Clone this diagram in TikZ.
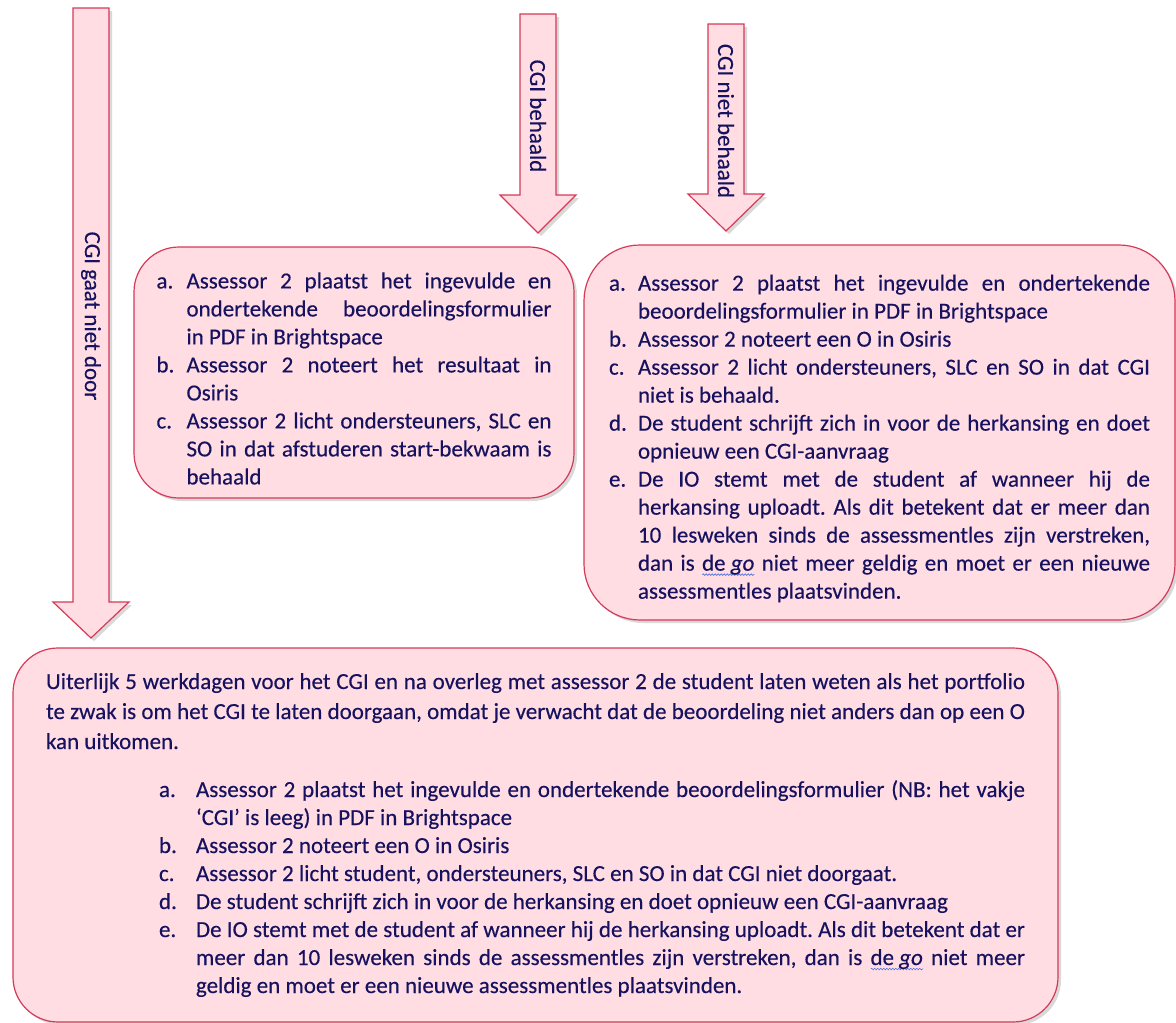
\documentclass[tikz,border=0pt]{standalone}
\usepackage{fontspec}
\setmainfont{Carlito}[FakeBold=0.3]
\usetikzlibrary{positioning,shadows,decorations.pathmorphing}
\frenchspacing

\definecolor{roze}{RGB}{255,221,227}
\definecolor{rand}{RGB}{213,58,88}
\definecolor{inkt}{RGB}{22,18,96}
\definecolor{golf}{RGB}{70,110,220}

\newlength\inspring
\setlength\inspring{30pt}
% lijstpunt met hangende inspringing
\newcommand\punt[2]{\par\noindent\hangindent=\inspring\hangafter=1\makebox[\inspring][l]{#1}#2\par}
% blauwe golflijn onder tekst
\newsavebox\golbox
\newlength\gollen
\newcommand\golijn[1]{\leavevmode\sbox\golbox{#1}\setlength\gollen{\wd\golbox}%
  \rlap{\tikz[baseline=0pt]\draw[golf, sharp corners, line width=0.6pt, decorate,
     decoration={snake, amplitude=0.8pt, segment length=3pt}] (0pt,-4pt) -- (\gollen,-4pt);}%
  \usebox\golbox}

\tikzset{
    %Define style for text boxes
    blok/.style={
           rectangle,
           rounded corners=45pt,
           draw=rand, fill=roze,
           line width=1.2pt,
           inner sep=0pt,
           text=inkt,
           align=justify,
           font=\fontsize{23}{28}\selectfont,
           drop shadow={shadow xshift=3pt, shadow yshift=-3pt, opacity=.3}},
    %Define style for block arrows
    pijl/.style={
           draw=rand, fill=roze,
           line width=1.2pt,
           drop shadow={shadow xshift=3pt, shadow yshift=-3pt, opacity=.3}},
    pijltekst/.style={
           rotate=-90,
           text=inkt,
           font=\fontsize{23}{28}\selectfont}
}

\begin{document}
\begin{tikzpicture}[x=1pt,y=-1pt]
\useasboundingbox (0,0) rectangle (1176,1023);
 %arrows
\foreach \cx/\ytop/\ybase/\ytip/\ylab/\naam/\tekst in {
    91/8/602/638/316/nietdoor/{CGI gaat niet door},
    538/14/195/233/116/behaald/{CGI behaald},
    726/24/194/231/121/nietbehaald/{CGI niet behaald}}
{
  \draw[pijl] ({\cx-18},\ytop) -- ({\cx+18},\ytop) -- ({\cx+18},\ybase) -- ({\cx+38},\ybase)
     -- (\cx,\ytip) -- ({\cx-38},\ybase) -- ({\cx-18},\ybase) -- cycle;
  \node[pijltekst] (p\naam) at (\cx,\ylab) {\tekst};
}
 %boxes
\node[blok, minimum width=440pt, minimum height=251pt, text width=395pt] (behaald) at (354,372.5) {%
\punt{a.}{Assessor 2 plaatst het ingevulde en\linebreak ondertekende beoordelingsformulier\linebreak in PDF in Brightspace}
\punt{b.}{Assessor 2 noteert het resultaat in\linebreak Osiris}
\punt{c.}{Assessor 2 licht ondersteuners, SLC en\linebreak SO in dat afstuderen start-bekwaam is\linebreak behaald}};
\node[blok, rounded corners=56pt, minimum width=591pt, minimum height=375pt, text width=541pt] (nietbehaald) at (879.5,432.5) {%
\setlength\inspring{29pt}%
\punt{a.}{Assessor 2 plaatst het ingevulde en ondertekende\linebreak beoordelingsformulier in PDF in Brightspace}
\punt{b.}{Assessor 2 noteert een O in Osiris}
\punt{c.}{Assessor 2 licht ondersteuners, SLC en SO in dat CGI\linebreak niet is behaald.}
\punt{d.}{De student schrijft zich in voor de herkansing en doet\linebreak opnieuw een CGI-aanvraag}
\punt{e.}{De IO stemt met de student af wanneer hij de\linebreak herkansing uploadt. Als dit betekent dat er meer dan\linebreak 10 lesweken sinds de assessmentles zijn verstreken,\linebreak dan is \golijn{de \textit{go}} niet meer geldig en moet er een nieuwe\linebreak assessmentles plaatsvinden.}};
\node[blok, minimum width=1045pt, minimum height=374pt, text width=979pt] (nietdoor) at (535.5,835) {%
{\fontsize{23}{30}\selectfont Uiterlijk 5 werkdagen voor het CGI en na overleg met assessor 2 de student laten weten als het portfolio\linebreak te zwak is om het CGI te laten doorgaan, omdat je verwacht dat de beoordeling niet anders dan op een O\linebreak kan uitkomen.\par}
\vspace{20pt}
{\leftskip=113pt \setlength\inspring{37pt}%
\punt{a.}{Assessor 2 plaatst het ingevulde en ondertekende beoordelingsformulier (NB: het vakje\linebreak ‘CGI’ is leeg) in PDF in Brightspace}
\punt{b.}{Assessor 2 noteert een O in Osiris}
\punt{c.}{Assessor 2 licht student, ondersteuners, SLC en SO in dat CGI niet doorgaat.}
\punt{d.}{De student schrijft zich in voor de herkansing en doet opnieuw een CGI-aanvraag}
\punt{e.}{De IO stemt met de student af wanneer hij de herkansing uploadt. Als dit betekent dat er\linebreak meer dan 10 lesweken sinds de assessmentles zijn verstreken, dan is \golijn{de \textit{go}} niet meer\linebreak geldig en moet er een nieuwe assessmentles plaatsvinden.}\par}};
\end{tikzpicture}
\end{document}
